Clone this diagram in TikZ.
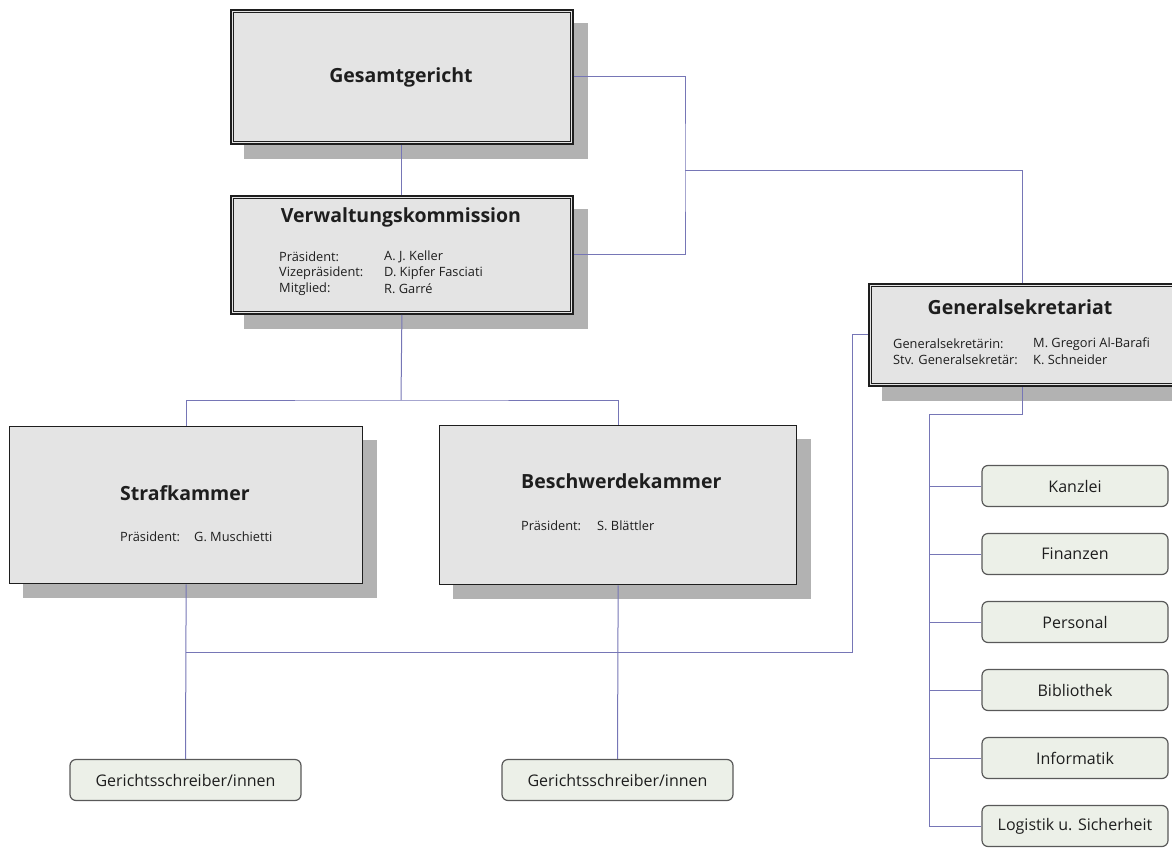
\documentclass[tikz,border=0pt]{standalone}
\usepackage{fontspec}
\setmainfont{Open Sans}
\usetikzlibrary{backgrounds}
\definecolor{connc}{RGB}{118,118,182}
\definecolor{boxgray}{RGB}{228,228,228}
\definecolor{shadowc}{RGB}{178,178,178}
\definecolor{smallfill}{RGB}{236,240,232}
\definecolor{inkc}{RGB}{30,30,30}
\begin{document}
\begin{tikzpicture}[x=1pt,y=-1pt,
  conn/.style={draw=connc, line width=1pt},
  dblbox/.style={draw=inkc, line width=1.8pt, fill=boxgray, inner sep=0pt, anchor=north west},
  innerline/.style={draw=inkc, line width=0.9pt},
  plainbox/.style={draw=inkc, line width=1.3pt, fill=boxgray, inner sep=0pt, anchor=north west},
  smallbox/.style={draw=black!65, line width=1.2pt, fill=smallfill, rounded corners=6pt, inner sep=0pt, minimum height=41pt, font=\fontsize{16}{18}\selectfont, text=inkc},
  ttl/.style={font=\bfseries\fontsize{19.5}{22}\selectfont, text=inkc, inner sep=0pt},
  sm/.style={font=\fontsize{12.8}{15}\selectfont, text=inkc, anchor=west, inner sep=0pt}]
\useasboundingbox (0,0) rectangle (1172,851);
\clip (0,0) rectangle (1172,851);

% boxes
\node[dblbox, minimum width=342pt, minimum height=134pt] (G) at (230,9) {};
\node[dblbox, minimum width=342pt, minimum height=118pt] (V) at (230,195) {};
\node[dblbox, minimum width=308pt, minimum height=102pt] (GS) at (868,283) {};
\node[plainbox, minimum width=353pt, minimum height=157pt] (S) at (9,426) {};
\node[plainbox, minimum width=357pt, minimum height=159pt] (B) at (439,425) {};

% inner lines of the double borders
\foreach \n in {G,V,GS}{
  \draw[innerline] ([shift={(3,3)}]\n.north west) rectangle ([shift={(-3,-3)}]\n.south east);
}

% shadows
\begin{scope}[on background layer]
\foreach \n in {G,V,GS,S,B}{
  \fill[shadowc] ([shift={(14,14)}]\n.north west) rectangle ([shift={(14,14)}]\n.south east);
}
\end{scope}

% texts
\node[ttl] (Gt) at (401,77) {Gesamtgericht};
\node[ttl] (Vt) at (401,217) {Verwaltungskommission};
\node[sm] (V1a) at (279,257) {Präsident:};
\node[sm] (V1b) at (384,257) {A. J. Keller};
\node[sm] (V2a) at (279,273) {Vizepräsident:};
\node[sm] (V2b) at (384,273) {D. Kipfer Fasciati};
\node[sm] (V3a) at (279,289) {Mitglied:};
\node[sm] (V3b) at (384,289) {R. Garré};

\node[ttl] (GSt) at (1020,307) {Generalsekretariat};
\node[sm] (GS1a) at (893,344) {Generalsekretärin:};
\node[sm] (GS1b) at (1033,344) {M. Gregori Al-Barafi};
\node[sm] (GS2a) at (893,360) {Stv. Generalsekretär:};
\node[sm] (GS2b) at (1033,360) {K. Schneider};

\node[ttl, anchor=west] (St) at (120,493) {Strafkammer};
\node[sm] (S1a) at (120,537) {Präsident:};
\node[sm] (S1b) at (194,537) {G. Muschietti};

\node[ttl, anchor=west] (Bt) at (521,481) {Beschwerdekammer};
\node[sm] (B1a) at (521,526) {Präsident:};
\node[sm] (B1b) at (597,526) {S. Blättler};

% small boxes
\node[smallbox, minimum width=231pt] (GA) at (185.5,780) {Gerichtsschreiber/innen};
\node[smallbox, minimum width=231pt] (GB) at (617.5,780) {Gerichtsschreiber/innen};
\node[smallbox, minimum width=186pt] (K1) at (1075,486) {Kanzlei};
\node[smallbox, minimum width=186pt] (K2) at (1075,554) {Finanzen};
\node[smallbox, minimum width=186pt] (K3) at (1075,622) {Personal};
\node[smallbox, minimum width=186pt] (K4) at (1075,690) {Bibliothek};
\node[smallbox, minimum width=186pt] (K5) at (1075,758) {Informatik};
\node[smallbox, minimum width=186pt] (K6) at (1075,826) {Logistik u. Sicherheit};

% connectors
\coordinate (r1) at (685,170);
\coordinate (j1) at (401,400);
\coordinate (h1) at (185.5,652);
\coordinate (l1) at (852,652);
\coordinate (t1) at (929,414);

\draw[conn] (G.south) -- (V.north);
\draw[conn] (G.east) -| (r1) |- (V.east);
\draw[conn] (r1) -| (GS.north);
\draw[conn] (V.south) -- (j1);
\draw[conn] (S.north) |- (j1) -| (B.north);
\draw[conn] (S.south) -- (GA.north);
\draw[conn] (B.south) -- (GB.north);
\draw[conn] (h1) -- (l1) |- (GS.west);
\draw[conn] (GS.south) |- (t1) |- (K6.west);
\foreach \k in {K1,K2,K3,K4,K5}{
  \draw[conn] (t1 |- \k.west) -- (\k.west);
}
\end{tikzpicture}
\end{document}
